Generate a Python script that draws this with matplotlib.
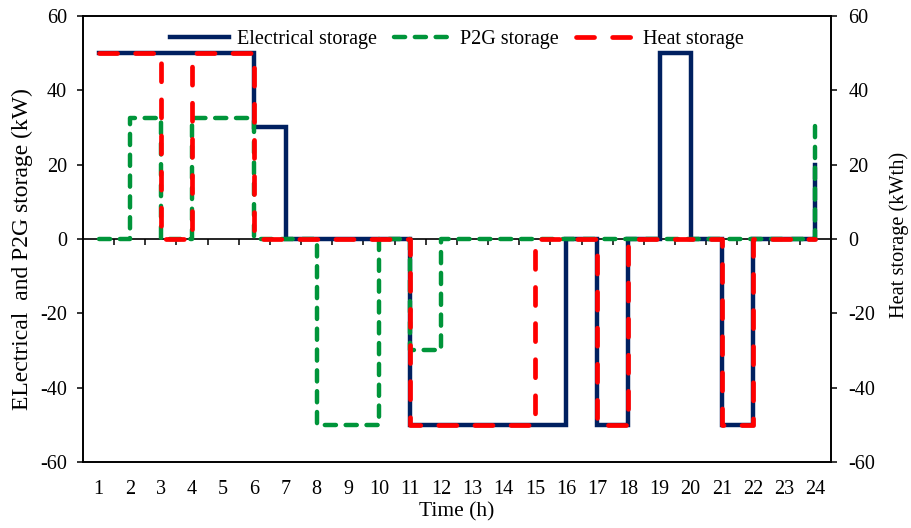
import numpy as np
import matplotlib
matplotlib.use("Agg")
import matplotlib.pyplot as plt

plt.rcParams['font.family'] = ['Liberation Serif', 'DejaVu Serif']
plt.rcParams['lines.scale_dashes'] = False
plt.rcParams['axes.unicode_minus'] = False

# hourly values (step held from hour t to t+1)
hours = list(range(1, 25))
elec = [50, 50, 50, 50, 50, 30, 0, 0, 0, 0, -50, -50, -50, -50, -50, 0,
        -50, 0, 50, 0, -50, 0, 0, 20]
p2g = [0, 32.5, 0, 32.5, 32.5, 0, 0, -50, -50, 0, -30, 0, 0, 0, 0, 0,
       0, 0, 0, 0, 0, 0, 0, 31]
heat = [50, 50, 0, 50, 50, 0, 0, 0, 0, 0, -50, -50, -50, -50, 0, 0,
        -50, 0, 0, 0, -50, 0, 0, 0]

navy = '#002060'
green = '#00953A'
red = '#FF0000'

fig = plt.figure(figsize=(9.11, 5.28), dpi=100)
ax = fig.add_axes([0.0911, 0.125, 0.821, 0.845])
ax2 = ax.twinx()

l1, = ax.step(hours, elec, where='post', color=navy, lw=3.2,
              solid_joinstyle='miter', label='Electrical storage', zorder=3)
l2, = ax.step(hours, p2g, where='post', color=green, lw=3.2,
              dashes=(8, 7), dash_capstyle='round', label='P2G storage', zorder=4)
l3, = ax2.step(hours, heat, where='post', color=red, lw=3.4,
               dashes=(13, 13), dash_capstyle='round', label='Heat storage', zorder=5)

for a in (ax, ax2):
    a.set_ylim(-60, 60)
    a.set_yticks(np.arange(-60, 61, 20))
    a.set_xlim(0.5, 24.5)
    for s in a.spines.values():
        s.set_linewidth(1.2)
        s.set_color('black')

ax.set_xticks(hours)
ax.tick_params(axis='x', length=0, pad=13, labelsize=14.5)
ax.tick_params(axis='y', direction='out', length=4.5, width=1.1, pad=7, labelsize=14.5)
ax2.tick_params(axis='y', direction='out', length=4.5, width=1.1, pad=8, labelsize=14.5)

# zero line with tick marks between the hours, pointing down
zero = ax.secondary_xaxis(0.5)
zero.set_xticks(np.arange(1.5, 24, 1))
zero.set_xticklabels([])
zero.xaxis.set_ticks_position('bottom')
zero.tick_params(axis='x', direction='out', length=4, width=1.1)
for s in zero.spines.values():
    s.set_linewidth(1.2)

ax.set_xlabel('Time (h)', fontsize=15.5, labelpad=2)
ax.set_ylabel('ELectrical  and P2G storage (kW)', fontsize=17, labelpad=5)
ax.yaxis.label.set_y(0.478)
ax2.set_ylabel('Heat storage (kWth)', fontsize=14.7, labelpad=10)
ax2.yaxis.label.set_y(0.51)

ax2.legend(handles=[l1, l2, l3], loc='upper center', bbox_to_anchor=(0.5, 1.0),
           ncol=3, frameon=False, fontsize=14.5, handlelength=2.9,
           handletextpad=0.4, columnspacing=0.85, borderaxespad=0.3)

fig.savefig('out.png', dpi=100)
